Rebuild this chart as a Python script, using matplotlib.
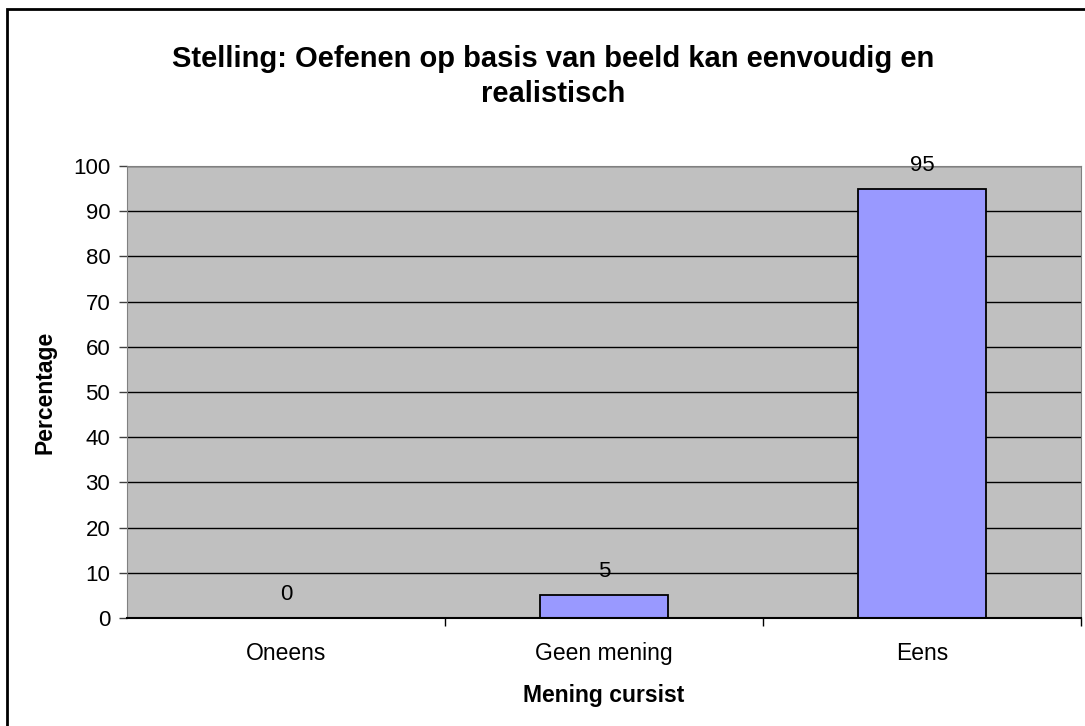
import matplotlib.pyplot as plt
from matplotlib.patches import Rectangle

plt.rcParams['font.family'] = ['Liberation Sans', 'DejaVu Sans']

categories = ['Oneens', 'Geen mening', 'Eens']
percentages = [0, 5, 95]
yticks = [0, 10, 20, 30, 40, 50, 60, 70, 80, 90, 100]

fig = plt.figure(figsize=(10.85, 7.26), dpi=100)
ax = fig.add_axes([0.117, 0.1488, 0.8793, 0.6225])
ax.set_facecolor('#c0c0c0')

x = range(len(categories))
ax.bar(x, percentages, width=0.4, color='#9999ff', edgecolor='black', linewidth=1.3, zorder=3)
for xi, v in zip(x, percentages):
    ax.text(xi, v + 5.2, str(v), ha='center', va='center', fontsize=16, zorder=4)

ax.set_xlim(-0.5, 2.5)
ax.set_ylim(0, 100)
ax.set_yticks(yticks)
ax.tick_params(axis='y', labelsize=16, length=6, width=1, color='#404040', pad=6)
ax.yaxis.grid(True, color='black', linewidth=1, zorder=1)

# category boundaries get the tick marks, names sit in between
ax.set_xticks([0.5, 1.5, 2.5], minor=False)
ax.set_xticklabels(['', '', ''])
ax.set_xticks(list(x), minor=True)
ax.set_xticklabels(categories, minor=True)
ax.tick_params(axis='x', which='major', length=6, width=1, color='black')
ax.tick_params(axis='x', which='minor', length=0, labelsize=16.5, pad=17)

for s in ['left', 'right', 'top']:
    ax.spines[s].set_color('#808080')
ax.spines['bottom'].set_color('black')
ax.spines['bottom'].set_linewidth(1.5)
ax.spines['bottom'].set_zorder(5)

ax.set_ylabel('Percentage', fontsize=16.5, fontweight='bold', va='center')
ax.set_xlabel('Mening cursist', fontsize=16.5, fontweight='bold', va='center')
ax.yaxis.set_label_coords(-0.086, 0.5)
ax.xaxis.set_label_coords(0.5, -0.1726)

fig.text(0.51, 0.8946, 'Stelling: Oefenen op basis van beeld kan eenvoudig en\nrealistisch',
         ha='center', va='center', fontsize=21, fontweight='bold', linespacing=1.29)

fig.patches.append(Rectangle((7 / 1085, -0.05), 1.2, 1 - 9 / 726 + 0.05,
                             transform=fig.transFigure, fill=False,
                             edgecolor='black', linewidth=2))

fig.savefig('out.png', dpi=100)
